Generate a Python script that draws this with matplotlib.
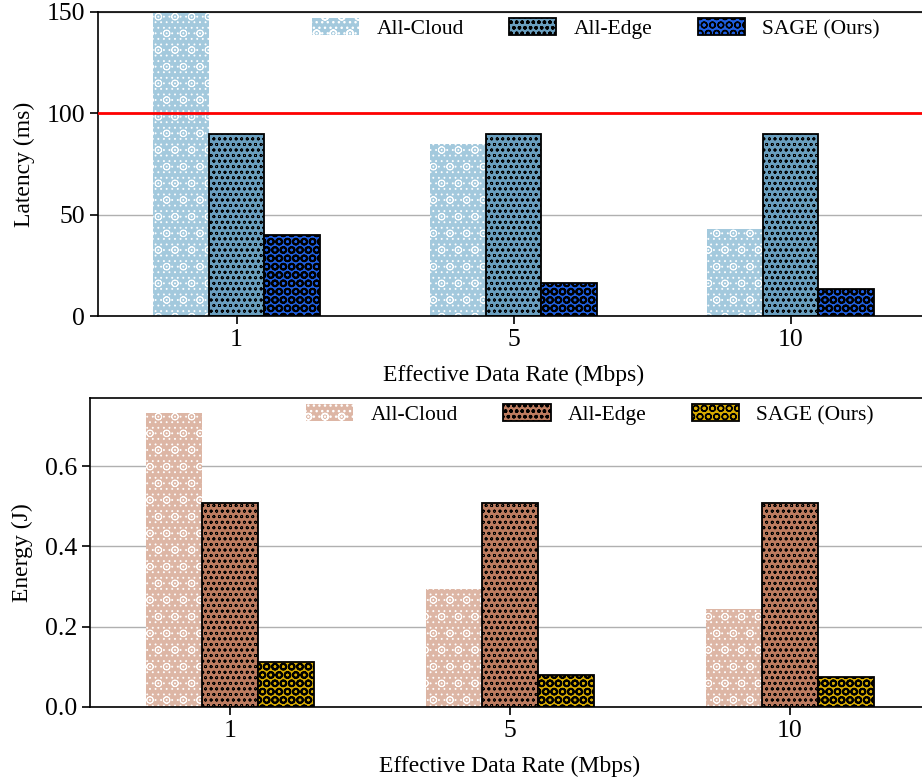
import matplotlib
matplotlib.use("Agg")
import matplotlib.pyplot as plt
import numpy as np

plt.rcParams['font.family'] = ['Liberation Serif', 'DejaVu Serif']

rates = ['1', '5', '10']
methods = ['All-Cloud', 'All-Edge', 'SAGE (Ours)']

# latency (ms)
lat_cloud = [180, 85, 43]
lat_edge = [90, 90, 90]
lat_sage = [40, 16.5, 13.5]
lat_limit = 100

# energy (J)
en_cloud = [0.732, 0.295, 0.243]
en_edge = [0.508, 0.508, 0.508]
en_sage = [0.111, 0.080, 0.075]

fig = plt.figure(figsize=(9.22, 7.78), dpi=100)
ax1 = fig.add_axes([0.1063, 0.5938, 0.9013, 0.3908])
ax2 = fig.add_axes([0.0976, 0.0913, 0.9111, 0.3971])

x = np.arange(len(rates))
w = 0.2
hatches = ['o...', 'ooo', 'OO']
hatch_lw = [0.6, 0.55, 1.4]


def draw(ax, series, colors):
    for i, vals in enumerate(series):
        with plt.rc_context({'hatch.linewidth': hatch_lw[i]}):
            if i == 0:
                ax.bar(x + (i - 1) * w, vals, w, color=colors[i], edgecolor='white', linewidth=0,
                       hatch=hatches[i], label=methods[i], zorder=2)
            else:
                ax.bar(x + (i - 1) * w, vals, w, color=colors[i], edgecolor='black', linewidth=1.3,
                       hatch=hatches[i], label=methods[i], zorder=2)
    ax.set_xticks(x)
    ax.set_xticklabels(rates)
    ax.set_xlim(-0.5, len(rates) - 0.5)
    ax.grid(axis='y', color='#b0b0b0', linewidth=1)
    ax.set_axisbelow(True)
    ax.set_xlabel('Effective Data Rate (Mbps)', fontsize=17, labelpad=10)
    ax.tick_params(labelsize=18.5, length=6, width=1.2)
    for s in ax.spines.values():
        s.set_linewidth(1.2)
    ax.legend(loc='upper left', bbox_to_anchor=(0.247, 1.008), ncol=3, frameon=False,
              fontsize=15.5, handlelength=2.2, handleheight=0.85, handletextpad=0.8,
              columnspacing=2.1, borderaxespad=0)


draw(ax1, [lat_cloud, lat_edge, lat_sage], ['#a3c9dd', '#6a9fbf', '#1f5fe0'])
ax1.axhline(lat_limit, color='red', linewidth=2, zorder=3)
ax1.set_ylim(0, 150)
ax1.set_yticks([0, 50, 100, 150])
ax1.set_ylabel('Latency (ms)', fontsize=17, labelpad=8)

draw(ax2, [en_cloud, en_edge, en_sage], ['#ddb6a5', '#bd7c60', '#d6aa00'])
ax2.set_ylim(0, 0.77)
ax2.set_yticks([0.0, 0.2, 0.4, 0.6])
ax2.set_ylabel('Energy (J)', fontsize=17, labelpad=8)

fig.savefig('out.png', dpi=100)
